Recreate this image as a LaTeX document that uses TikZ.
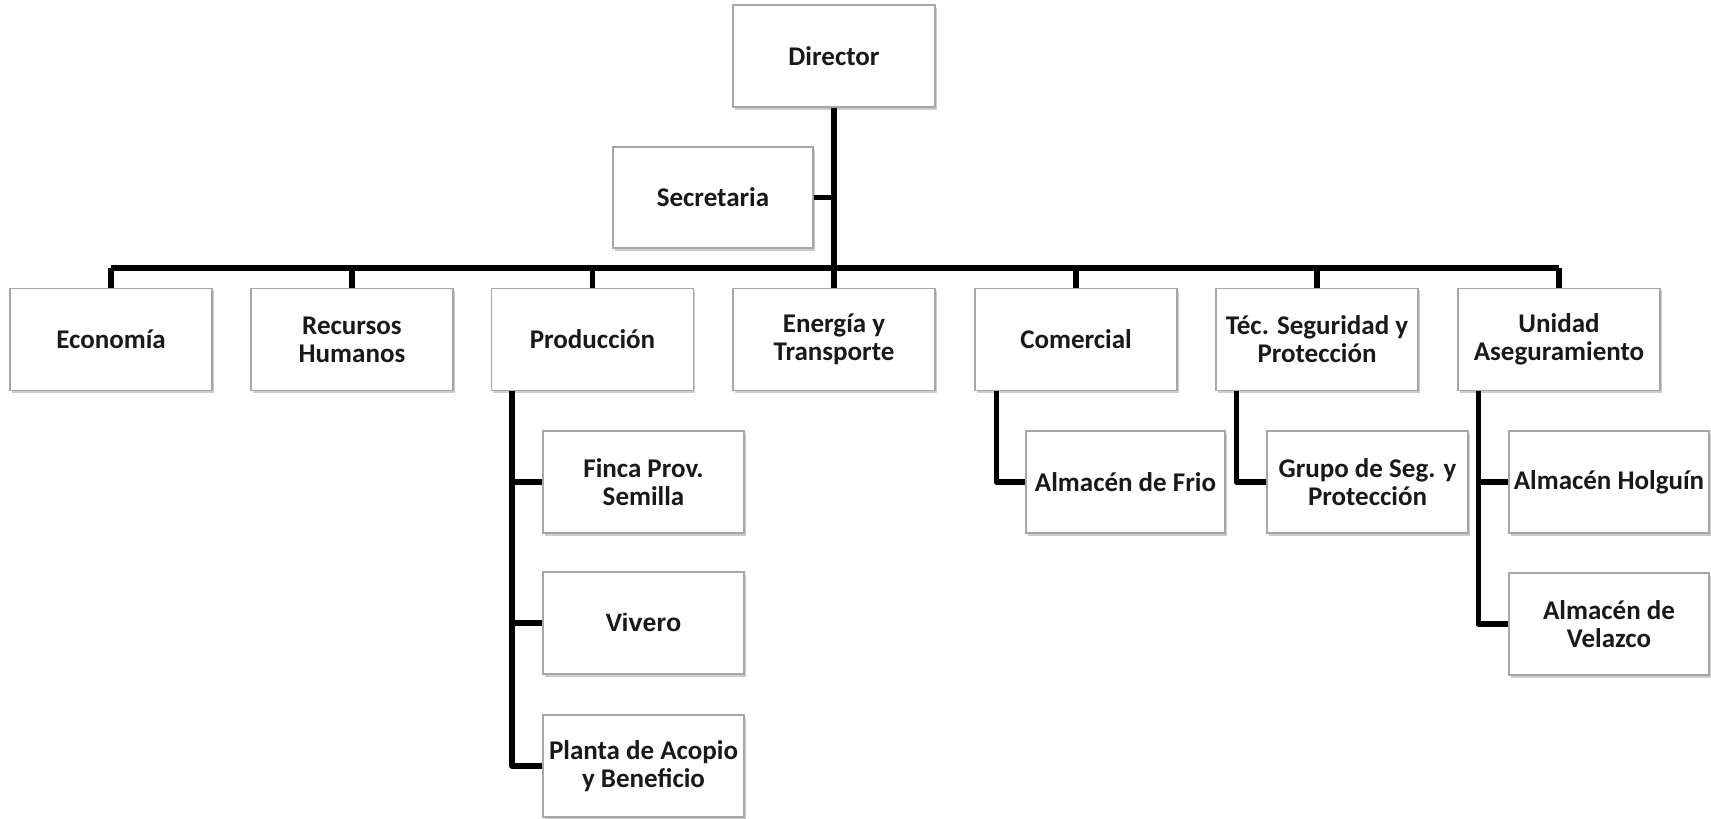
\documentclass[tikz,border=0pt]{standalone}
\usepackage{fontspec}
\setmainfont{Carlito}
\newfontfamily\arialb{Liberation Sans}
\usetikzlibrary{shadows}
\begin{document}
\begin{tikzpicture}[x=1pt,y=-1pt,
  box/.style={draw=black!35, line width=1.2pt, fill=white, align=center,
    minimum width=202pt, minimum height=102pt, inner sep=2pt,
    font=\fontsize{27}{28}\selectfont\bfseries, text=black!90,
    drop shadow={shadow xshift=1.5pt, shadow yshift=-2.5pt, fill=black!40, opacity=.5}},
  conn/.style={line width=5.5pt, black, line join=round}]
\useasboundingbox (0,0) rectangle (1711,819);
% top
\node[box] (dir) at (834,56) {Director};
\node[box, minimum width=200pt, minimum height=101pt] (sec) at (713,197.5) {Secretaria};
% row
\node[box] (eco) at (111,339.5) {Economía};
\node[box] (rh) at (352,339.5) {Recursos\\Humanos};
\node[box] (prod) at (592.5,339.5) {Producción};
\node[box] (ene) at (834,339.5) {Energía y\\Transporte};
\node[box] (com) at (1076,339.5) {Comercial};
\node[box] (tec) at (1317,339.5) {Téc. Seguridad y\\Protección};
\node[box] (uni) at (1559,339.5) {Unidad\\Aseguramiento};
% children
\node[box, minimum width=201pt] (finca) at (643.5,482) {Finca Prov.\\Semilla};
\node[box, minimum width=201pt, font=\arialb\fontsize{25}{28}\selectfont\bfseries] (viv) at (643.5,623) {Vivero};
\node[box, minimum width=201pt] (planta) at (643.5,766) {Planta de Acopio\\y Beneficio};
\node[box, minimum width=199pt] (frio) at (1125.5,482) {Almacén de Frio};
\node[box, minimum width=201pt] (grupo) at (1367.5,482) {Grupo de Seg. y\\Protección};
\node[box, minimum width=200pt, inner sep=0pt] (hol) at (1609,482) {Almacén Holguín};
\node[box, minimum width=200pt] (vel) at (1609,624) {Almacén de\\Velazco};
% connectors
\coordinate (bus) at (834,268);
\draw[conn] (dir.south) -- (dir.south |- bus);
\draw[conn] (sec.east) -- (sec.east -| dir.south);
\draw[conn] (bus -| eco.north) -- (bus -| uni.north);
\foreach \n in {eco,rh,prod,ene,com,tec,uni}
  \draw[conn] (\n.north) -- (\n.north |- bus);
\draw[conn] ([xshift=21pt]prod.south west) |- (finca.west);
\draw[conn] ([xshift=21pt]prod.south west) |- (viv.west);
\draw[conn] ([xshift=21pt]prod.south west) |- (planta.west);
\draw[conn] ([xshift=22pt]com.south west) |- (frio.west);
\draw[conn] ([xshift=21pt]tec.south west) |- (grupo.west);
\draw[conn] ([xshift=21pt]uni.south west) |- (hol.west);
\draw[conn] ([xshift=21pt]uni.south west) |- (vel.west);
\end{tikzpicture}
\end{document}
